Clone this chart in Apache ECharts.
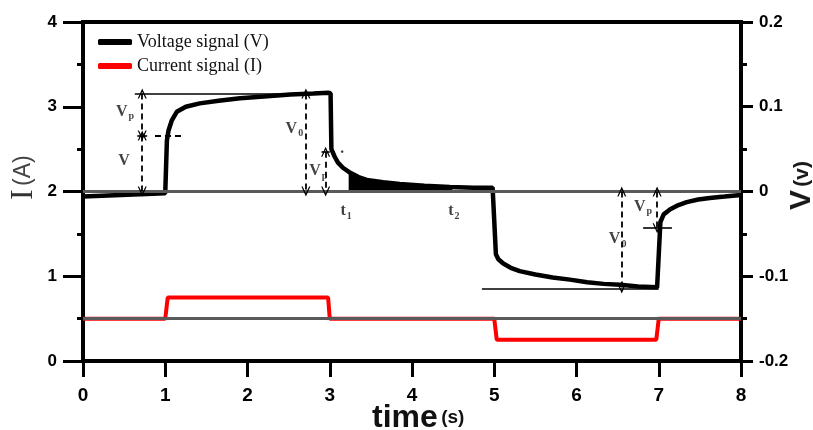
<!DOCTYPE html>
<html>
<head>
<meta charset="utf-8">
<script src="https://cdn.jsdelivr.net/npm/echarts@6/dist/echarts.min.js"></script>
<style>
  html, body { margin: 0; padding: 0; background: #fff; }
  #main { width: 813px; height: 430px; }
</style>
</head>
<body>
<div id="main"></div>
<script>
// voltage signal (right axis, V)
var voltageTime = [0, 1.0, 1.02, 1.04, 1.08, 1.14, 1.25, 1.42, 1.65, 1.91, 2.2, 2.52, 2.8, 2.98,
  3.01, 3.02, 3.06, 3.1, 3.16, 3.25, 3.35, 3.45, 3.65, 3.85, 4.15, 4.46, 4.75, 4.98,
  5.0, 5.02, 5.05, 5.11, 5.2, 5.31, 5.5, 5.71, 5.92, 6.13, 6.33, 6.53, 6.75, 6.98,
  7.0, 7.02, 7.06, 7.14, 7.24, 7.34, 7.48, 7.62, 7.8, 8.0];
var voltage = [-0.006, -0.002, 0.060, 0.072, 0.084, 0.094, 0.100, 0.104, 0.107, 0.110, 0.112, 0.1145, 0.1155, 0.1165,
  0.116, 0.050, 0.041, 0.034, 0.028, 0.022, 0.017, 0.0137, 0.011, 0.0089, 0.0068, 0.0053, 0.0045, 0.0045,
  0.004, -0.074, -0.080, -0.085, -0.090, -0.094, -0.098, -0.1015, -0.104, -0.107, -0.109, -0.110, -0.112, -0.113,
  -0.113, -0.036, -0.027, -0.021, -0.016, -0.0125, -0.0095, -0.0077, -0.006, -0.004];

// current signal (left axis, A)
var currentTime = [0, 1.0, 1.03, 2.98, 3.0, 5.0, 5.03, 6.97, 7.0, 8.0];
var current = [0.5, 0.5, 0.75, 0.75, 0.5, 0.5, 0.25, 0.25, 0.5, 0.5];

// shaded part between t1 and t2
var fillTime = [3.23, 3.35, 3.45, 3.65, 3.85, 4.15, 4.49];
var fillV = [0.023, 0.017, 0.0137, 0.011, 0.0089, 0.0068, 0.0052];

// annotations: dashed arrows [t, from, to], guide lines [tStart, tEnd, v]
var arrowLines = [[0.72, 0.1157, 0.066], [0.72, 0.066, 0.0], [2.71, 0.1157, 0.0], [2.95, 0.047, 0.0],
  [6.55, 0.0, -0.1145], [6.98, 0.0, -0.0433]];
var solidGuides = [[0.63, 3.0, 0.1157], [4.85, 7.0, -0.1145], [6.81, 7.16, -0.0433], [2.9, 3.0, 0.047], [0.66, 0.78, 0.066]];
var dashedGuides = [[0.875, 1.22, 0.066]];
var labelTime = [0.51, 0.50, 2.57, 2.86, 3.2, 4.51, 6.81, 6.5, 3.15];
var labelV = [0.094, 0.036, 0.074, 0.024, -0.023, -0.023, -0.018, -0.056, 0.046];
var labelMain = ['V', 'V', 'V', 'V', 't', 't', 'V', 'V', '·'];
var labelSub = ['p', '', '0', 'p', '1', '2', 'p', '0', ''];

var zip = function (a, b) { return a.map(function (x, i) { return [x, b[i]]; }); };

var chevron = 'path://M0,10 L5,0 L10,10 L8.6,10 L5,3.2 L1.4,10 Z';

var markData = [];
arrowLines.forEach(function (a) {
  markData.push([
    { coord: [a[0], a[1]], symbol: chevron, symbolSize: [9, 10] },
    { coord: [a[0], a[2]], symbol: chevron, symbolSize: [9, 10] }
  ]);
});
solidGuides.forEach(function (g) {
  markData.push([
    { coord: [g[0], g[2]], symbol: 'none', lineStyle: { type: 'solid', width: 1.6 } },
    { coord: [g[1], g[2]], symbol: 'none' }
  ]);
});
dashedGuides.forEach(function (g) {
  markData.push([
    { coord: [g[0], g[2]], symbol: 'none' },
    { coord: [g[1], g[2]], symbol: 'none' }
  ]);
});

var labelData = labelTime.map(function (t, i) {
  return {
    value: [t, labelV[i]],
    label: { formatter: '{m|' + labelMain[i] + '}' + (labelSub[i] ? '{s|' + labelSub[i] + '}' : '') }
  };
});

var myChart = echarts.init(document.getElementById('main'));
myChart.setOption({
  animation: false,
  backgroundColor: '#fff',
  grid: { left: 83, right: 72, top: 22, bottom: 69, show: true, borderColor: '#000', borderWidth: 4 },
  legend: {
    left: 93, top: 28, orient: 'vertical', itemGap: 6,
    icon: 'roundRect', itemWidth: 34, itemHeight: 6,
    textStyle: { fontFamily: 'Liberation Serif', fontSize: 18, color: '#111' },
    data: ['Voltage signal (V)', 'Current signal (I)']
  },
  xAxis: {
    type: 'value', min: 0, max: 8, interval: 1,
    axisLine: { lineStyle: { color: '#000', width: 4 } },
    axisTick: { length: 16, lineStyle: { color: '#000', width: 3 } },
    axisLabel: { margin: 25, color: '#000', fontFamily: 'Arial', fontWeight: 'bold', fontSize: 19 },
    splitLine: { show: false }
  },
  yAxis: [{
    type: 'value', min: 0, max: 4, interval: 1, position: 'left',
    axisLine: { show: true, lineStyle: { color: '#000', width: 4 } },
    axisTick: { length: 20, lineStyle: { color: '#000', width: 3 } },
    minorTick: { show: true, splitNumber: 2, length: 6, lineStyle: { color: '#000', width: 3 } },
    axisLabel: { margin: 26, color: '#000', fontFamily: 'Arial', fontWeight: 'bold', fontSize: 17 },
    splitLine: { show: false }
  }, {
    type: 'value', min: -0.2, max: 0.2, interval: 0.1, position: 'right',
    axisLine: { show: true, lineStyle: { color: '#000', width: 4 } },
    axisTick: { length: 12, lineStyle: { color: '#000', width: 3 } },
    minorTick: { show: true, splitNumber: 2, length: 6, lineStyle: { color: '#000', width: 3 } },
    axisLabel: {
      margin: 18, color: '#000', fontFamily: 'Arial', fontWeight: 'bold', fontSize: 17,
      formatter: function (v) { return String(Math.round(v * 10) / 10); }
    },
    splitLine: { show: false }
  }],
  series: [{
    name: 'Current signal (I)', type: 'line', yAxisIndex: 0, showSymbol: false, symbol: 'none',
    data: zip(currentTime, current),
    lineStyle: { color: '#ff0000', width: 4 }, itemStyle: { color: '#ff0000' },
    markLine: {
      silent: true, symbol: 'none', label: { show: false },
      lineStyle: { color: '#5a5a5a', width: 3, type: 'solid' },
      data: [{ yAxis: 0.5 }]
    }
  }, {
    name: 'shade', type: 'line', yAxisIndex: 1, showSymbol: false, symbol: 'none',
    data: zip(fillTime, fillV),
    lineStyle: { width: 0 }, areaStyle: { color: '#000', opacity: 1 }
  }, {
    name: 'Voltage signal (V)', type: 'line', yAxisIndex: 1, showSymbol: false, symbol: 'none',
    data: zip(voltageTime, voltage), z: 3,
    lineStyle: { color: '#000', width: 4.5 }, itemStyle: { color: '#000' },
    markLine: {
      silent: true, symbol: 'none', label: { show: false },
      lineStyle: { color: '#5a5a5a', width: 3, type: 'solid' },
      data: [{ yAxis: 0 }]
    }
  }, {
    name: 'notes', type: 'line', yAxisIndex: 1, data: [], symbol: 'none',
    markLine: {
      silent: true, label: { show: false },
      lineStyle: { color: '#000', width: 1.8, type: [6, 4] },
      data: markData
    }
  }, {
    name: 'labels', type: 'scatter', yAxisIndex: 1, symbolSize: 0,
    data: labelData,
    label: {
      show: true, position: 'inside',
      rich: {
        m: { fontFamily: 'Liberation Serif', fontWeight: 'bold', fontSize: 16, color: '#111' },
        s: { fontFamily: 'Liberation Serif', fontWeight: 'bold', fontSize: 10, color: '#111', padding: [10, 0, 0, 1] }
      }
    }
  }],
  graphic: [{
    type: 'group', x: 40, y: 170, rotation: Math.PI / 2,
    children: [{
      type: 'text', x: -30, y: -16,
      style: { rich: {
        a: { fontFamily: 'Liberation Serif', fontSize: 32, fill: '#333' },
        b: { fontFamily: 'Arial', fontSize: 23, fill: '#444' }
      }, text: '{a|I} {b|(A)}', textVerticalAlign: 'middle' }
    }]
  }, {
    type: 'group', x: 817, y: 183, rotation: Math.PI / 2,
    children: [{
      type: 'text', x: -27, y: -15,
      style: { rich: {
        a: { fontFamily: 'Arial', fontWeight: 'bold', fontSize: 30, fill: '#1a1a1a' },
        b: { fontFamily: 'Arial', fontWeight: 'bold', fontSize: 21, fill: '#1a1a1a' }
      }, text: '{a|V} {b|(v)}', textVerticalAlign: 'middle' }
    }]
  }, {
    type: 'text', x: 372, y: 402,
    style: { rich: {
      a: { fontFamily: 'Arial', fontWeight: 'bold', fontSize: 32, fill: '#111' },
      b: { fontFamily: 'Arial', fontWeight: 'bold', fontSize: 19, fill: '#111' }
    }, text: '{a|time} {b|(s)}' }
  }]
});
</script>
</body>
</html>
